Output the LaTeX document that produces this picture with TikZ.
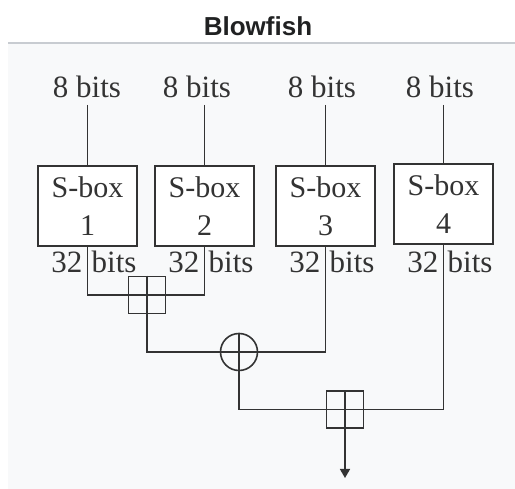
\documentclass[tikz,border=0pt]{standalone}
\usepackage{fontspec}
\setmainfont{Liberation Serif}
\newfontfamily\titlefont{Liberation Sans}
\usetikzlibrary{arrows.meta}
\definecolor{bgc}{HTML}{F8F9FA}
\definecolor{rulec}{HTML}{C8CCD1}
\definecolor{ink}{HTML}{333333}
\definecolor{titlec}{HTML}{202122}
\begin{document}
\begin{tikzpicture}[x=1pt,y=-1pt,
  wire/.style={draw=ink,line width=1.6pt},
  lbl/.style={font=\fontsize{31}{36}\selectfont,text=ink,inner sep=0pt,anchor=base},
  sbox/.style={draw=ink,line width=1.6pt,fill=white,minimum width=99pt,minimum height=80pt,inner sep=0pt,
    align=center,font=\fontsize{30}{38}\selectfont,text=ink},
  addbox/.style={draw=ink,line width=1.6pt,minimum size=37pt,inner sep=0pt},
  xorc/.style={circle,draw=ink,line width=1.6pt,minimum size=37pt,inner sep=0pt}
]
\useasboundingbox (0,0) rectangle (515,489);
\fill[white] (0,0) rectangle (515,489);
\fill[bgc] (8,44) rectangle (515,489);
\draw[rulec,line width=2pt] (8,43) -- (515,43);
\node[font=\titlefont\bfseries\fontsize{26}{30}\selectfont,text=titlec] (title) at (258,26) {Blowfish};

% input labels
\node[lbl] (in1) at (87,98) {8 bits};
\node[lbl] (in2) at (197,98) {8 bits};
\node[lbl] (in3) at (322,98) {8 bits};
\node[lbl] (in4) at (440,98) {8 bits};

% S-boxes
\node[sbox] (b1) at (87.5,206) {S-box\\1};
\node[sbox] (b2) at (204.5,206) {S-box\\2};
\node[sbox] (b3) at (325.5,206) {S-box\\3};
\node[sbox] (b4) at (443.5,204) {S-box\\4};

% input wires
\draw[wire] (b1.north |- 0,105) coordinate (t1) -- (b1.north);
\draw[wire] (b2.north |- 0,105) coordinate (t2) -- (b2.north);
\draw[wire] (b3.north |- 0,105) coordinate (t3) -- (b3.north);
\draw[wire] (b4.north |- 0,105) coordinate (t4) -- (b4.north);

% 32 bits labels
\foreach \b/\x in {1/87.5,2/204.5,3/325.5,4/443.5}{
  \node[lbl,anchor=base east] (n\b) at (\x-5,273) {32};
  \node[lbl,anchor=base west] (w\b) at (\x+4,273) {bits};
}

% operators
\node[addbox] (pA) at (147,295) {};
\node[xorc] (cx) at (239,352) {};
\node[addbox] (pB) at (345,409.5) {};
\coordinate (out) at (345,478);

% wires
\draw[wire] (b1.south) |- (pA.center) -| (b2.south);
\draw[wire] (pA.north) -- (pA.south) |- (cx.center) -| (b3.south);
\draw[wire] (cx.north) -- (cx.south) |- (pB.center) -| (b4.south);
\draw[wire] (pB.west) -- (pB.east);
\draw[wire,-{Triangle[length=9pt,width=10pt]}] (pB.north) -- (out);
\end{tikzpicture}
\end{document}
